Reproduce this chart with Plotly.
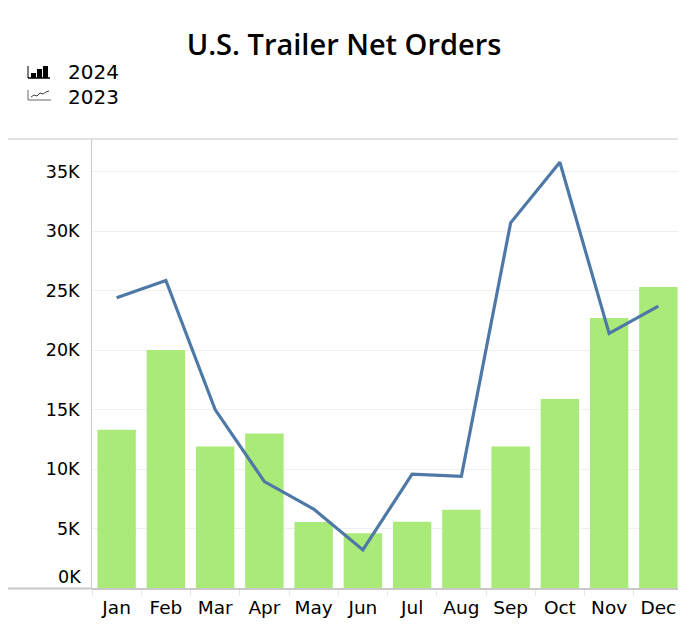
import plotly.graph_objects as go

# values
months = ["Jan", "Feb", "Mar", "Apr", "May", "Jun", "Jul", "Aug", "Sep", "Oct", "Nov", "Dec"]
orders_2024 = [13300, 20000, 11900, 13000, 5550, 4600, 5570, 6580, 11900, 15900, 22700, 25300]
orders_2023 = [24400, 25850, 15000, 8950, 6640, 3200, 9580, 9380, 30700, 35800, 21400, 23700]
ytick_vals = [5000, 10000, 15000, 20000, 25000, 30000, 35000]
ytick_text = ["5K", "10K", "15K", "20K", "25K", "30K", "35K"]

# the page body has an 8px margin, so the figure is sized to fit the window
OFF = 8
W, H = 686 - OFF, 624 - OFF
L, R, T, B = 84, 3, 131, 36
PW, PH = W - L - R, H - T - B

def px(x):
    # page pixel -> paper x
    return (x - OFF - L) / PW

def py(y):
    # page pixel -> paper y
    return (H - B - (y - OFF)) / PH

GRAY = "#c8c8c8"
TXT = "DejaVu Sans"

fig = go.Figure()
fig.add_trace(go.Bar(x=months, y=orders_2024, name="2024",
                     marker=dict(color="#a9ea79", line=dict(width=0))))
fig.add_trace(go.Scatter(x=months, y=orders_2023, name="2023", mode="lines",
                         line=dict(color="#4e79a7", width=3.2)))

fig.update_layout(
    width=W, height=H,
    margin=dict(l=L, r=R, t=T, b=B),
    paper_bgcolor="white", plot_bgcolor="white",
    showlegend=False,
    bargap=0.22,
    title=dict(text="U.S. Trailer Net Orders", x=(344 - OFF) / W, xanchor="center",
               y=1 - (45 - OFF) / H, yanchor="middle", yref="container",
               font=dict(family="Open Sans", size=29, color="black", weight=600)),
    font=dict(family=TXT, color="black"),
)
fig.update_xaxes(showgrid=False, showline=True, linecolor=GRAY, linewidth=2,
                 ticks="outside", tickson="boundaries", ticklen=6, tickcolor="#e6e6e6",
                 ticklabelstandoff=2,
                 tickfont=dict(family=TXT, size=18.5, color="black"))
# transparent ticks give the gap between labels and the axis
fig.update_yaxes(range=[0, 37750], tickvals=ytick_vals, ticktext=ytick_text,
                 showgrid=True, gridcolor="#efefef", gridwidth=1, zeroline=False,
                 showline=False, ticks="outside", ticklen=8, tickcolor="rgba(0,0,0,0)",
                 tickfont=dict(family=TXT, size=17.5, color="black"))

# 0K label sits slightly above the baseline, as in the reference
fig.add_annotation(x=px(83), y=py(577), xref="paper", yref="paper", text="0K",
                   showarrow=False, xanchor="right", yanchor="middle",
                   font=dict(family=TXT, size=17.5, color="black"))

# outer frame of the chart pane
fig.add_shape(type="line", xref="paper", yref="paper", x0=px(0), x1=px(684),
              y0=py(139), y1=py(139), line=dict(color=GRAY, width=1))
fig.add_shape(type="line", xref="paper", yref="paper", x0=px(0), x1=px(92),
              y0=py(588.5), y1=py(588.5), line=dict(color=GRAY, width=2))
fig.add_shape(type="line", xref="paper", yref="paper", x0=px(91.5), x1=px(91.5),
              y0=py(139), y1=py(588), line=dict(color=GRAY, width=1))
fig.add_shape(type="line", xref="paper", yref="paper", x0=px(683.5), x1=px(683.5),
              y0=py(139), y1=py(588), line=dict(color=GRAY, width=1))

# legend: bar icon
fig.add_shape(type="line", xref="paper", yref="paper", x0=px(28), x1=px(28),
              y0=py(66), y1=py(78), line=dict(color="black", width=1))
fig.add_shape(type="line", xref="paper", yref="paper", x0=px(28), x1=px(50),
              y0=py(78), y1=py(78), line=dict(color="black", width=1.5))
for x0, top in [(31, 73), (37, 69), (43, 66)]:
    fig.add_shape(type="rect", xref="paper", yref="paper", x0=px(x0), x1=px(x0 + 5),
                  y0=py(78), y1=py(top), fillcolor="black", line=dict(width=0))
# legend: line icon
fig.add_shape(type="line", xref="paper", yref="paper", x0=px(28), x1=px(28),
              y0=py(90), y1=py(100), line=dict(color="#666666", width=1))
fig.add_shape(type="line", xref="paper", yref="paper", x0=px(28), x1=px(51),
              y0=py(100), y1=py(100), line=dict(color="#666666", width=1))
fig.add_shape(type="path", xref="paper", yref="paper",
              path="M {} {} L {} {} L {} {} L {} {} L {} {} L {} {} L {} {}".format(
                  px(31), py(97), px(34), py(95), px(37), py(96), px(40), py(93),
                  px(43), py(94), px(46), py(92), px(49), py(91)),
              line=dict(color="#444444", width=1))

for label, yy in [("2024", 71.5), ("2023", 97)]:
    fig.add_annotation(x=px(66), y=py(yy), xref="paper", yref="paper", text=label,
                       showarrow=False, xanchor="left", yanchor="middle",
                       font=dict(family=TXT, size=20, color="black"))

fig.write_html("out.html")
